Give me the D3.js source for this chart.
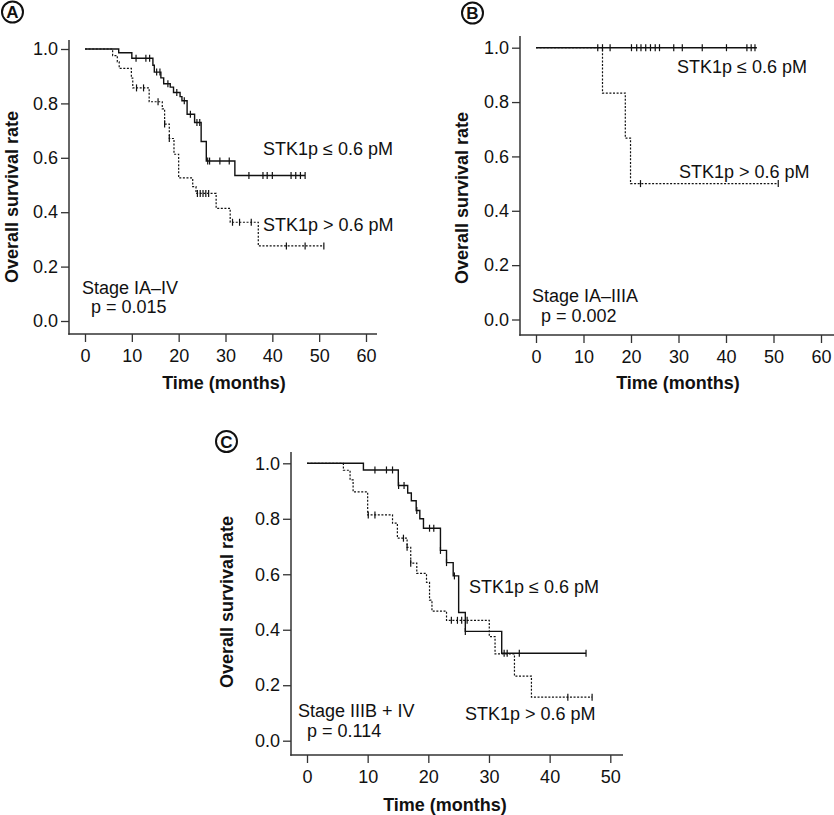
<!DOCTYPE html>
<html>
<head>
<meta charset="utf-8">
<script src="https://cdn.jsdelivr.net/npm/d3@7"></script>
<style>
  html, body { margin: 0; padding: 0; background: #fff; }
  svg text { font-family: "Liberation Sans", Arial, Helvetica, sans-serif; fill: #111; }
</style>
</head>
<body>
<svg id="chart" width="834" height="815"></svg>
<script>
// ---------- DATA ----------
const yTicks = [0.0, 0.2, 0.4, 0.6, 0.8, 1.0];
const xTicksAB = [0, 10, 20, 30, 40, 50, 60];
const xTicksC = [0, 10, 20, 30, 40, 50];

const groupLabels = ["STK1p \u2264 0.6 pM", "STK1p > 0.6 pM"];
const panelLetters = ["A", "B", "C"];
const stageLabels = ["Stage IA\u2013IV", "Stage IA\u2013IIIA", "Stage IIIB + IV"];
const pLabels = ["p = 0.015", "p = 0.002", "p = 0.114"];

// Panel A — STK1p <= 0.6 pM (solid)
const aLowTimes = [0, 7.2, 10, 14.5, 14.8, 16.2, 16.8, 18.2, 18.9, 20.3, 20.7, 21.8, 23.4, 24.8, 25.9, 32];
const aLowSurv  = [1, 0.986, 0.966, 0.94, 0.915, 0.894, 0.872, 0.86, 0.84, 0.825, 0.81, 0.76, 0.73, 0.66, 0.588, 0.535];
const aLowCens  = [10.9, 13, 13.8, 15.3, 16, 17.7, 19.6, 21.2, 22.5, 23.9, 24.5, 26.2, 26.6, 28.8, 30.8, 35, 38, 38.9, 40, 44, 45, 46, 47];
const aLowEnd = 47;
// Panel A — STK1p > 0.6 pM (dashed)
const aHighTimes = [0, 5.9, 6.9, 7.3, 9.9, 10.2, 13.7, 16.5, 17, 18, 19, 20, 23, 23.7, 28, 31, 37];
const aHighSurv  = [1, 0.976, 0.953, 0.929, 0.893, 0.857, 0.806, 0.78, 0.724, 0.671, 0.613, 0.526, 0.494, 0.469, 0.414, 0.363, 0.276];
const aHighCens  = [11, 12.5, 15.6, 17, 18, 24, 24.6, 25.2, 25.8, 26.4, 31.5, 33, 35.5, 43, 47, 51];
const aHighEnd = 51;

// Panel B
const bLowTimes = [0];
const bLowSurv  = [1];
const bLowCens  = [13, 14, 15.6, 20.1, 21.2, 22.1, 23.1, 24.1, 25.1, 26, 29, 30.8, 35, 40.1, 44.4, 45.3, 46.1];
const bLowEnd = 46.5;
const bHighTimes = [0, 14, 18.8, 19.9];
const bHighSurv  = [1, 0.833, 0.667, 0.5];
const bHighCens  = [22, 51];
const bHighEnd = 51;

// Panel C
const cLowTimes = [0, 9.3, 15.05, 16.6, 17.2, 18, 18.6, 19.2, 22, 23, 24.1, 25, 26.1, 32.1];
const cLowSurv  = [1, 0.976, 0.92, 0.893, 0.865, 0.83, 0.8, 0.766, 0.686, 0.642, 0.594, 0.462, 0.394, 0.315];
const cLowCens  = [11.2, 13.1, 14.1, 15.1, 16, 18.1, 20.2, 20.9, 22, 23, 24.3, 26.1, 32.5, 33, 35, 46];
const cLowEnd = 46;
const cHighTimes = [0, 6, 7.1, 7.6, 10, 14.1, 14.9, 16.5, 17.1, 18.1, 19.7, 20.2, 20.6, 23, 30.05, 31, 34.2, 37];
const cHighSurv  = [1, 0.975, 0.94, 0.897, 0.814, 0.784, 0.73, 0.697, 0.64, 0.603, 0.571, 0.507, 0.467, 0.434, 0.375, 0.313, 0.233, 0.157];
const cHighCens  = [10.1, 11.2, 15.9, 16.5, 17.1, 23.8, 24.8, 25.5, 26.4, 43, 47];
const cHighEnd = 47;

// ---------- LAYOUT ----------
const panels = [
  { letter: panelLetters[0], circle: [12.5, 12],
    xDomain: [0, 60], xRange: [85, 366], yRange: [321, 49], xTicks: xTicksAB,
    axisX: 69, axisY: 334, axisTop: 40, axisRight: 377,
    yLabel: [18, 197], xLabel: [224, 389],
    low:  { t: aLowTimes, s: aLowSurv, c: aLowCens, end: aLowEnd },
    high: { t: aHighTimes, s: aHighSurv, c: aHighCens, end: aHighEnd },
    lowLabel: [263, 155], highLabel: [263, 231],
    stage: [82, 294], p: [91, 313], stageText: stageLabels[0], pText: pLabels[0] },
  { letter: panelLetters[1], circle: [472.5, 13],
    xDomain: [0, 60], xRange: [536, 821], yRange: [319.5, 47.7], xTicks: xTicksAB,
    axisX: 520, axisY: 335, axisTop: 36, axisRight: 834,
    yLabel: [468, 198], xLabel: [678, 389],
    low:  { t: bLowTimes, s: bLowSurv, c: bLowCens, end: bLowEnd },
    high: { t: bHighTimes, s: bHighSurv, c: bHighCens, end: bHighEnd },
    lowLabel: [677, 73], highLabel: [679, 178],
    stage: [532, 302], p: [541, 322], stageText: stageLabels[1], pText: pLabels[1] },
  { letter: panelLetters[2], circle: [226.5, 441.5],
    xDomain: [0, 50], xRange: [307, 610.3], yRange: [740.7, 463.3], xTicks: xTicksC,
    axisX: 291, axisY: 755, axisTop: 452, axisRight: 623,
    yLabel: [233, 602], xLabel: [445, 811],
    low:  { t: cLowTimes, s: cLowSurv, c: cLowCens, end: cLowEnd },
    high: { t: cHighTimes, s: cHighSurv, c: cHighCens, end: cHighEnd },
    lowLabel: [469, 593], highLabel: [465, 720],
    stage: [298, 717], p: [307, 737], stageText: stageLabels[2], pText: pLabels[2] }
];

const svg = d3.select("#chart");
const FS = 18;

function survAt(g, t) {
  const i = d3.bisectRight(g.t, t) - 1;
  return g.s[Math.max(0, i)];
}

panels.forEach(P => {
  const x = d3.scaleLinear().domain(P.xDomain).range(P.xRange);
  const y = d3.scaleLinear().domain([0, 1]).range(P.yRange);
  const g = svg.append("g");

  // axis lines
  g.append("line").attr("x1", P.axisX).attr("x2", P.axisX)
    .attr("y1", P.axisTop).attr("y2", P.axisY + 0.75)
    .attr("stroke", "#333").attr("stroke-width", 1.5);
  g.append("line").attr("x1", P.axisX - 0.75).attr("x2", P.axisRight)
    .attr("y1", P.axisY).attr("y2", P.axisY)
    .attr("stroke", "#333").attr("stroke-width", 1.5);

  // y axis ticks
  const ya = g.append("g").attr("transform", `translate(${P.axisX},0)`)
    .call(d3.axisLeft(y).tickValues(yTicks).tickFormat(d3.format(".1f")).tickSize(8).tickPadding(3));
  ya.select(".domain").remove();
  ya.selectAll(".tick line").attr("stroke", "#333").attr("stroke-width", 1.3);
  ya.selectAll(".tick text").attr("font-size", FS).attr("font-family", null).attr("fill", "#111");

  const xa = g.append("g").attr("transform", `translate(0,${P.axisY})`)
    .call(d3.axisBottom(x).tickValues(P.xTicks).tickSize(8).tickPadding(7));
  xa.select(".domain").remove();
  xa.selectAll(".tick line").attr("stroke", "#333").attr("stroke-width", 1.3);
  xa.selectAll(".tick text").attr("font-size", FS).attr("font-family", null).attr("fill", "#111");

  // axis titles
  g.append("text").attr("transform", `translate(${P.yLabel[0]},${P.yLabel[1]}) rotate(-90)`)
    .attr("text-anchor", "middle").attr("font-size", FS).attr("font-weight", "bold")
    .text("Overall survival rate");
  g.append("text").attr("x", P.xLabel[0]).attr("y", P.xLabel[1])
    .attr("text-anchor", "middle").attr("font-size", FS).attr("font-weight", "bold")
    .text("Time (months)");

  // panel letter
  g.append("circle").attr("cx", P.circle[0]).attr("cy", P.circle[1]).attr("r", 10.5)
    .attr("fill", "none").attr("stroke", "#111").attr("stroke-width", 2);
  g.append("text").attr("x", P.circle[0]).attr("y", P.circle[1] + 6)
    .attr("text-anchor", "middle").attr("font-size", 17).attr("font-weight", "bold")
    .text(P.letter);

  // curves
  const line = d3.line().x(d => x(d[0])).y(d => y(d[1])).curve(d3.curveStepAfter);
  [["high", "2,1.6", 1.2], ["low", null, 1.4]].forEach(([key, dash, w]) => {
    const G = P[key];
    const pts = G.t.map((t, i) => [t, G.s[i]]);
    pts.push([G.end, G.s[G.s.length - 1]]);
    g.append("path").attr("d", line(pts)).attr("fill", "none")
      .attr("stroke", "#111").attr("stroke-width", w)
      .attr("stroke-dasharray", dash);
    g.selectAll(null).data(G.c).enter().append("line")
      .attr("x1", d => x(d)).attr("x2", d => x(d))
      .attr("y1", d => y(survAt(G, d)) - 3.5).attr("y2", d => y(survAt(G, d)) + 3.5)
      .attr("stroke", "#111").attr("stroke-width", 1.2);
  });

  // labels
  g.append("text").attr("x", P.lowLabel[0]).attr("y", P.lowLabel[1]).attr("font-size", FS).text(groupLabels[0]);
  g.append("text").attr("x", P.highLabel[0]).attr("y", P.highLabel[1]).attr("font-size", FS).text(groupLabels[1]);
  g.append("text").attr("x", P.stage[0]).attr("y", P.stage[1]).attr("font-size", FS).text(P.stageText);
  g.append("text").attr("x", P.p[0]).attr("y", P.p[1]).attr("font-size", FS).text(P.pText);
});
</script>
</body>
</html>
